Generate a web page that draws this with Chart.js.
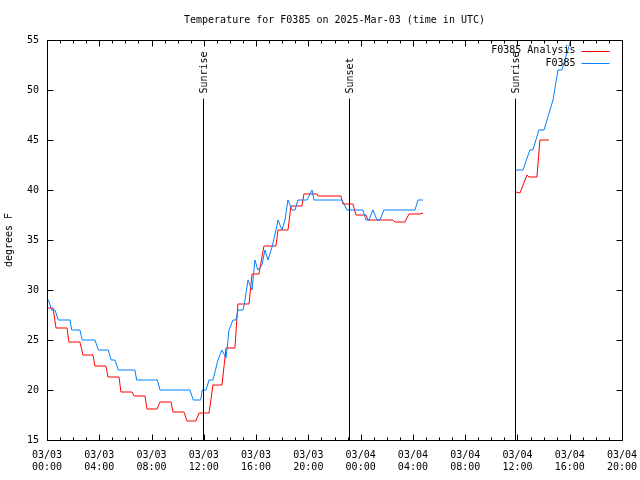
<!DOCTYPE html>
<html>
<head>
<meta charset="utf-8">
<script src="https://cdn.jsdelivr.net/npm/chart.js@4.4.1/dist/chart.umd.min.js"></script>
<style>
html, body { margin: 0; padding: 0; background: #fff; }
</style>
</head>
<body>
<canvas id="chart" width="640" height="480"></canvas>
<script>
// hours since 03/03 00:00 UTC, temps in deg F (null = gap)
const blueHours = [0, 0.11, 0.36, 0.61, 0.86, 1.76, 1.89, 2.52, 2.70, 3.67, 3.93, 4.69, 4.90, 5.20, 5.46, 6.73, 6.86, 8.44, 8.65, 10.94,
    11.19, 11.76, 11.88, 12.17, 12.40, 12.70, 13.08, 13.39, 13.70, 13.85, 13.92, 14.23, 14.46, 14.61, 15.00, 15.15, 15.38, 15.69, 15.91, 16.14,
    16.45, 16.68, 16.91, 17.22, 17.52, 17.68, 17.98, 18.21, 18.44, 18.75, 18.98, 19.20, 19.89, 20.28, 20.43, 22.57, 22.95, 24.18, 24.41, 24.64,
    24.94, 25.25, 25.48, 25.78, 28.16, 28.39, 28.77,
    32,
    35.88, 36.42, 36.95, 37.18, 37.64, 38.03, 38.72, 39.10, 39.40, 40.09, 40.32];
const blueTemps = [29, 29, 28, 28, 27, 27, 26, 26, 25, 25, 24, 24, 23, 23, 22, 22, 21, 21, 20, 20,
    19, 19, 20, 20, 21, 21, 23, 24, 23.2, 25, 26, 27, 27, 28, 28, 29, 31, 30, 33, 32,
    32.5, 34, 33, 34.3, 36, 37, 36, 37, 39, 38, 38, 39, 39, 40, 39, 39, 38, 38, 37, 37,
    38, 37, 37, 38, 38, 39, 39,
    null,
    42, 42, 44, 44, 46, 46, 49, 52, 52, 55, 56];

const redHours = [0, 0.46, 0.69, 1.53, 1.68, 2.52, 2.75, 3.52, 3.67, 4.51, 4.67, 5.51, 5.66, 6.50, 6.66, 7.50, 7.65, 8.42, 8.65, 9.49,
    9.64, 10.48, 10.71, 11.40, 11.63, 12.40, 12.70, 13.39, 13.70, 14.38, 14.61, 15.46, 15.69, 16.22, 16.60, 17.52, 17.68, 18.44, 18.67, 19.51,
    19.66, 20.66, 20.74, 22.49, 22.65, 23.41, 23.64, 24.41, 24.56, 26.47, 26.63, 27.39, 27.70, 28.54, 28.77,
    32,
    35.88, 36.19, 36.73, 36.88, 37.49, 37.72, 38.41];
const redTemps = [28.2, 28.2, 26.2, 26.2, 24.8, 24.8, 23.5, 23.5, 22.4, 22.4, 21.3, 21.3, 19.8, 19.8, 19.4, 19.4, 18.1, 18.1, 18.8, 18.8,
    17.8, 17.8, 16.9, 16.9, 17.7, 17.7, 20.5, 20.5, 24.2, 24.2, 28.6, 28.6, 31.6, 31.6, 34.4, 34.4, 36.0, 36.0, 38.4, 38.4,
    39.6, 39.6, 39.4, 39.4, 38.6, 38.6, 37.5, 37.5, 37.0, 37.0, 36.8, 36.8, 37.6, 37.6, 37.7,
    null,
    39.8, 39.7, 41.5, 41.3, 41.3, 45.0, 45.0];

const eventHours = [11.93, 23.1, 35.8];
const eventLabels = ['Sunrise', 'Sunset', 'Sunrise'];

const xTickDays = ['03/03', '03/03', '03/03', '03/03', '03/03', '03/03', '03/04', '03/04', '03/04', '03/04', '03/04', '03/04'];
const xTickTimes = ['00:00', '04:00', '08:00', '12:00', '16:00', '20:00', '00:00', '04:00', '08:00', '12:00', '16:00', '20:00'];

const FONT = "'DejaVu Sans Mono', monospace";

function toPoints(hours, temps) {
    return hours.map((h, i) => ({ x: h, y: temps[i] }));
}

// gnuplot-ish frame: box, inward ticks, event markers, legend, title
const framePlugin = {
    id: 'frame',
    afterDatasetsDraw(chart) {
        const ctx = chart.ctx;
        const a = chart.chartArea;
        const xs = chart.scales.x;
        const ys = chart.scales.y;
        const L = Math.round(a.left) + 0.5, R = Math.round(a.right) + 0.5;
        const T = Math.round(a.top) + 0.5, B = Math.round(a.bottom) + 0.5;

        ctx.save();
        ctx.strokeStyle = '#000';
        ctx.lineWidth = 1;
        ctx.strokeRect(L, T, R - L, B - T);

        ctx.beginPath();
        for (let h = 0; h <= 44; h++) {
            const px = Math.round(xs.getPixelForValue(h)) + 0.5;
            const len = h % 4 === 0 ? 6 : 3;
            ctx.moveTo(px, B); ctx.lineTo(px, B - len);
            ctx.moveTo(px, T); ctx.lineTo(px, T + len);
        }
        for (let v = 15; v <= 55; v += 5) {
            const py = Math.round(ys.getPixelForValue(v)) + 0.5;
            ctx.moveTo(L, py); ctx.lineTo(L + 6, py);
            ctx.moveTo(R, py); ctx.lineTo(R - 6, py);
        }
        ctx.stroke();

        // sunrise / sunset markers
        ctx.font = '10px ' + FONT;
        ctx.fillStyle = '#000';
        eventHours.forEach((h, i) => {
            const px = Math.round(xs.getPixelForValue(h)) + 0.5;
            ctx.beginPath();
            ctx.moveTo(px, T + 58);
            ctx.lineTo(px, B);
            ctx.stroke();
            ctx.save();
            ctx.translate(px + 1, T + 53);
            ctx.rotate(-Math.PI / 2);
            ctx.textAlign = 'left';
            ctx.textBaseline = 'middle';
            ctx.fillText(eventLabels[i], 0, 0);
            ctx.restore();
        });

        // legend
        ctx.textAlign = 'right';
        ctx.textBaseline = 'middle';
        chart.data.datasets.forEach((ds, i) => {
            const y = T + 10 + i * 12.5;
            ctx.fillStyle = '#000';
            ctx.fillText(ds.label, R - 47, y);
            ctx.strokeStyle = ds.borderColor;
            ctx.beginPath();
            ctx.moveTo(R - 41, Math.round(y) + 0.5);
            ctx.lineTo(R - 13, Math.round(y) + 0.5);
            ctx.stroke();
        });

        // title and y label
        ctx.fillStyle = '#000';
        ctx.textAlign = 'center';
        ctx.fillText('Temperature for F0385 on 2025-Mar-03 (time in UTC)', (a.left + a.right) / 2, 20);
        ctx.save();
        ctx.translate(9, (a.top + a.bottom) / 2);
        ctx.rotate(-Math.PI / 2);
        ctx.fillText('degrees F', 0, 0);
        ctx.restore();
        ctx.restore();
    }
};

new Chart(document.getElementById('chart'), {
    type: 'line',
    data: {
        datasets: [
            {
                label: 'F0385 Analysis',
                data: toPoints(redHours, redTemps),
                borderColor: '#ff0000',
                borderWidth: 1,
                pointRadius: 0,
                tension: 0,
                spanGaps: false,
                order: 1
            },
            {
                label: 'F0385',
                data: toPoints(blueHours, blueTemps),
                borderColor: '#0080ff',
                borderWidth: 1,
                pointRadius: 0,
                tension: 0,
                spanGaps: false,
                order: 0
            }
        ]
    },
    options: {
        responsive: false,
        animation: false,
        events: [],
        layout: { padding: { top: 40, right: 18, left: 0, bottom: 0 } },
        plugins: {
            legend: { display: false },
            title: { display: false },
            tooltip: { enabled: false }
        },
        scales: {
            x: {
                type: 'linear',
                min: 0,
                max: 44,
                grid: { display: false, drawTicks: false },
                border: { display: false },
                afterFit: s => {
                    s.height = 40;
                    s.paddingLeft = 0;
                    s.paddingRight = 0;
                },
                ticks: {
                    stepSize: 4,
                    padding: 9,
                    maxRotation: 0,
                    autoSkip: false,
                    color: '#000',
                    font: { family: FONT, size: 10, lineHeight: 1.2 },
                    callback: v => [xTickDays[v / 4], xTickTimes[v / 4]]
                }
            },
            y: {
                min: 15,
                max: 55,
                grid: { display: false, drawTicks: false },
                border: { display: false },
                afterFit: s => {
                    s.width = 47;
                    s.paddingTop = 0;
                    s.paddingBottom = 0;
                },
                ticks: {
                    stepSize: 5,
                    padding: 8,
                    color: '#000',
                    font: { family: FONT, size: 10 }
                }
            }
        }
    },
    plugins: [framePlugin]
});
</script>
</body>
</html>
